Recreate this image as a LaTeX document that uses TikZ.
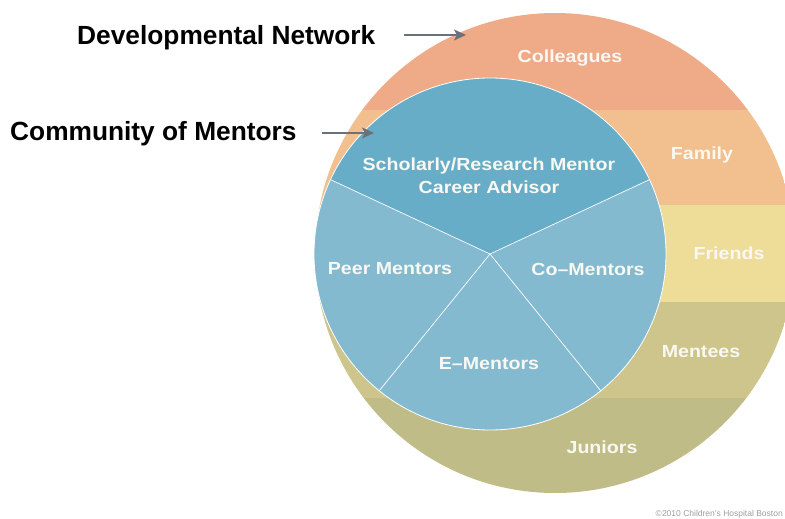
\documentclass[tikz,border=0pt]{standalone}
\usepackage{fontspec}
\setmainfont{Liberation Sans}
\newfontfamily\labfont{Liberation Sans Bold}[FakeStretch=1.12]
\newfontfamily\headfont{Liberation Sans Bold}
\usetikzlibrary{arrows.meta}
\definecolor{bandcolleagues}{HTML}{EFAA87}
\definecolor{bandfamily}{HTML}{F1C08E}
\definecolor{bandfriends}{HTML}{EEDC99}
\definecolor{bandmentees}{HTML}{CEC58D}
\definecolor{bandjuniors}{HTML}{C0BC87}
\definecolor{bluetop}{HTML}{67ADC7}
\definecolor{bluelow}{HTML}{84BAD0}
\definecolor{arrowgray}{HTML}{6A707C}
\definecolor{labwhite}{HTML}{FAF8F2}
\begin{document}
\begin{tikzpicture}[x=1pt,y=-1pt,
  lab/.style={text=labwhite,font=\labfont\fontsize{17.5}{21}\selectfont,align=center,inner sep=0pt},
  head/.style={text=black,font=\headfont\fontsize{26.3}{30}\selectfont,inner sep=0pt},
  pointer/.style={draw=arrowgray,line width=1.5pt,-{Stealth[length=12pt,width=11pt,inset=3pt]}},
  divider/.style={draw=white,line width=0.7pt}]
\useasboundingbox (0,0) rectangle (785,519);
\fill[white] (0,0) rectangle (785,519);
% outer circle (developmental network)
\coordinate (oc) at (555,253);
\begin{scope}
  \clip (oc) circle[radius=240];
  \fill[bandcolleagues] (300,0) rectangle (800,110);
  \fill[bandfamily] (300,110) rectangle (800,205);
  \fill[bandfriends] (300,205) rectangle (800,302);
  \fill[bandmentees] (300,302) rectangle (800,398);
  \fill[bandjuniors] (300,398) rectangle (800,500);
\end{scope}
% inner circle (community of mentors)
\coordinate (ic) at (490,254);
\fill[bluelow] (ic) circle[radius=176];
\fill[bluetop] (ic) -- ++(-25:176) arc[start angle=-25,end angle=-155,radius=176] -- cycle;
\draw[white,line width=0.8pt] (ic) circle[radius=176];
\path (ic) ++(-25:176) coordinate (s1);
\path (ic) ++(-155:176) coordinate (s2);
\path (ic) ++(-231:176) coordinate (s3);
\path (ic) ++(-309:176) coordinate (s4);
\draw[divider] (ic) -- (s1);
\draw[divider] (ic) -- (s2);
\draw[divider] (ic) -- (s3);
\draw[divider] (ic) -- (s4);
% labels in the rings
\node[lab] (colleagues) at (570,58) {Colleagues};
\node[lab] (family) at (702,155) {Family};
\node[lab] (friends) at (729,253) {Friends};
\node[lab] (mentees) at (701,352) {Mentees};
\node[lab] (juniors) at (602,447) {Juniors};
% labels in the sectors
\node[lab] (scholarly) at (489,166) {Scholarly/Research Mentor};
\node[lab] (career) at (489,187) {Career Advisor};
\node[lab] (peer) at (390,269) {Peer Mentors};
\node[lab] (co) at (588,269) {Co\textendash Mentors};
\node[lab] (emen) at (489,364) {E\textendash Mentors};
% headings and pointers
\node[head,anchor=west] (devnet) at (77,38) {Developmental Network};
\node[head,anchor=west] (commen) at (10,134) {Community of Mentors};
\coordinate (devstart) at (404,35);
\coordinate (devend) at (466,35);
\coordinate (comstart) at (322,133);
\coordinate (comend) at (374,133);
\draw[pointer] (devstart) -- (devend);
\draw[pointer] (comstart) -- (comend);
% copyright
\node[text=gray!75,font=\fontsize{8.5}{10}\selectfont,inner sep=0pt,anchor=east] (copy) at (783,514) {\textcopyright 2010 Children's Hospital Boston};
\end{tikzpicture}
\end{document}
